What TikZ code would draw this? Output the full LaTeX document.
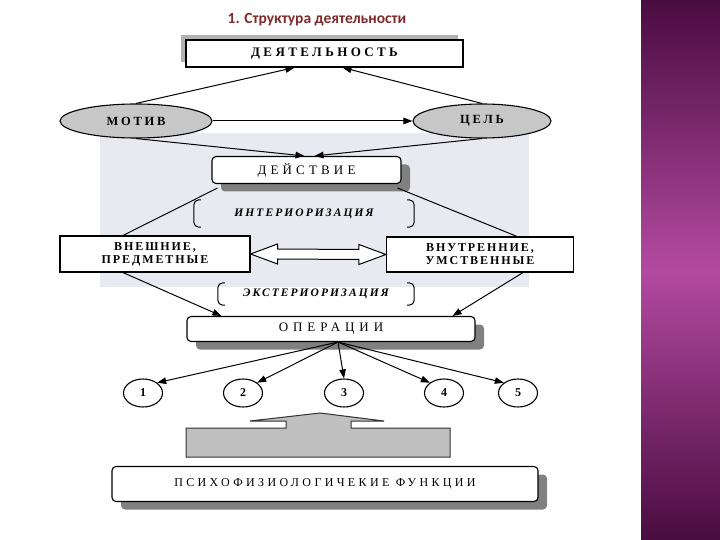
\documentclass[tikz,border=0pt]{standalone}
\usepackage{fontspec}
\setmainfont{Liberation Serif}
\newfontfamily\lsfont[LetterSpace=32]{Liberation Serif}
\newfontfamily\titlefont{Carlito}
\usetikzlibrary{arrows.meta,shapes.geometric,shadows,calc}
\definecolor{titlered}{HTML}{7F2A2A}
\definecolor{panel}{HTML}{E9EAF1}
\definecolor{bandtop}{HTML}{4A0C40}
\definecolor{bandmid}{HTML}{B34AA0}

\begin{document}
\begin{tikzpicture}[x=1pt,y=-1pt,
  font=\lsfont\fontsize{13}{15}\selectfont,
  box/.style={draw,line width=1.1pt,fill=white,inner sep=0pt,align=center},
  rbox/.style={box,rounded corners=4pt,drop shadow={shadow xshift=9pt,shadow yshift=-8pt,fill=black!50,opacity=1}},
  oval/.style={ellipse,draw,line width=1.1pt,fill=black!22,inner sep=0pt,minimum height=34pt,font=\lsfont\bfseries\fontsize{12.5}{14}\selectfont\addfontfeature{LetterSpace=22}},
  num/.style={ellipse,draw,line width=1.1pt,minimum width=39pt,minimum height=28pt,inner sep=0pt,font=\bfseries\fontsize{12}{13}\selectfont},
  brk/.style={minimum width=#1,inner sep=0pt,font=\lsfont\bfseries\itshape\fontsize{11.5}{13}\selectfont\addfontfeature{LetterSpace=18}},
  two/.style={box,font=\lsfont\bfseries\fontsize{12}{13}\selectfont\addfontfeature{LetterSpace=16}},
  arr/.style={-{Triangle[length=9pt,width=6.5pt]},line width=1pt},
  ln/.style={line width=1pt}
]
\useasboundingbox (0,0) rectangle (720,540);
\fill[white] (0,0) rectangle (720,540);
% side band and grey panel
\shade[top color=bandtop,bottom color=bandtop,middle color=bandmid] (641,0) rectangle (720,540);
\fill[panel] (100,133) rectangle (529,287);

\node[font=\titlefont\bfseries\fontsize{15.5}{18}\selectfont,text=titlered] (title) at (317,20) {1. Структура деятельности};

% ---- upper part ----
\node[box,minimum width=277pt,minimum height=27pt,font=\lsfont\bfseries\fontsize{13}{15}\selectfont\addfontfeature{LetterSpace=26},
  drop shadow={shadow xshift=-5pt,shadow yshift=5pt,fill=black!30,opacity=1}] (deyat) at (324.5,53.5) {ДЕЯТЕЛЬНОСТЬ};
\node[oval,minimum width=152pt] (motiv) at (136,121) {МОТИВ};
\node[oval,minimum width=138pt] (cel) at (482,121) {ЦЕЛЬ};
\node[rbox,minimum width=189pt,minimum height=27pt] (deystv) at (306.5,170) {ДЕЙСТВИЕ};

\draw[arr] (motiv.north) -- ([xshift=-30pt]deyat.south);
\draw[arr] (cel.north) -- ([xshift=18pt]deyat.south);
\draw[arr] (motiv.east) -- (cel.west);
\draw[arr] (motiv.south) -- ([xshift=-2pt]deystv.north);
\draw[arr] (cel.south) -- ([xshift=8pt]deystv.north);

% ---- middle part ----
\node[brk=220pt,minimum height=27pt] (inter) at (304,213.5) {ИНТЕРИОРИЗАЦИЯ};
\node[two,minimum width=190pt,minimum height=36pt] (vnesh) at (155,254) {ВНЕШНИЕ,\\ПРЕДМЕТНЫЕ};
\node[two,minimum width=187pt,minimum height=35pt] (vnutr) at (480,254.5) {ВНУТРЕННИЕ,\\УМСТВЕННЫЕ};
\node[brk=196pt,minimum height=22pt] (ekster) at (316,294) {ЭКСТЕРИОРИЗАЦИЯ};
\foreach \b in {inter,ekster}{
  \draw[ln,rounded corners=5pt] ([xshift=7pt]\b.north west) -- (\b.north west) -- (\b.south west) -- ([xshift=7pt]\b.south west);
  \draw[ln,rounded corners=5pt] ([xshift=-7pt]\b.north east) -- (\b.north east) -- (\b.south east) -- ([xshift=-7pt]\b.south east);
}
\draw[ln] ([xshift=6pt,yshift=-4pt]deystv.south west) -- ([xshift=-32pt]vnesh.north);
\draw[ln] ([xshift=-4pt,yshift=-4pt]deystv.south east) -- ([xshift=37pt]vnutr.north);
\draw[ln,fill=white] (vnesh.east) -- ++(27,-10) -- ++(0,5) -- ($(vnutr.west)+(-27,-5)$) -- ++(0,-5)
  -- (vnutr.west) -- ++(-27,10) -- ++(0,-5) -- ($(vnesh.east)+(27,5)$) -- ++(0,5) -- cycle;

% ---- operations ----
\node[rbox,minimum width=288pt,minimum height=25pt,font=\lsfont\fontsize{13}{15}\selectfont\addfontfeature{LetterSpace=38}] (oper) at (331,329) {ОПЕРАЦИИ};
\draw[arr] ([xshift=-32pt]vnesh.south) -- ([xshift=35pt]oper.north west);
\draw[arr] ([xshift=43pt]vnutr.south) -- ([xshift=-23pt]oper.north east);
\node[num] (c1) at (143,393) {1};
\node[num] (c2) at (243,393) {2};
\node[num] (c3) at (344,393) {3};
\node[num] (c4) at (444,393) {4};
\node[num] (c5) at (518,393) {5};
\coordinate (os) at ([xshift=7pt]oper.south);
\draw[arr] (os) -- (c1.north east);
\draw[arr] (os) -- (c2.north east);
\draw[arr] (os) -- (c3.north);
\draw[arr] (os) -- (c4.north west);
\draw[arr] (os) -- (c5.north west);

% ---- bottom ----
\draw[line width=1pt,draw=black!80,fill=black!25] (186,428) -- (286,428) -- (286,421) -- (250,421) -- (320,413)
  -- (384,421) -- (351,421) -- (351,428) -- (450,428) -- (450,457) -- (186,457) -- cycle;
\node[rbox,minimum width=426pt,minimum height=35pt,font=\lsfont\fontsize{12}{14}\selectfont\addfontfeature{LetterSpace=28}] (psi) at (325,484) {ПСИХОФИЗИОЛОГИЧЕКИЕ ФУНКЦИИ};
\end{tikzpicture}
\end{document}
